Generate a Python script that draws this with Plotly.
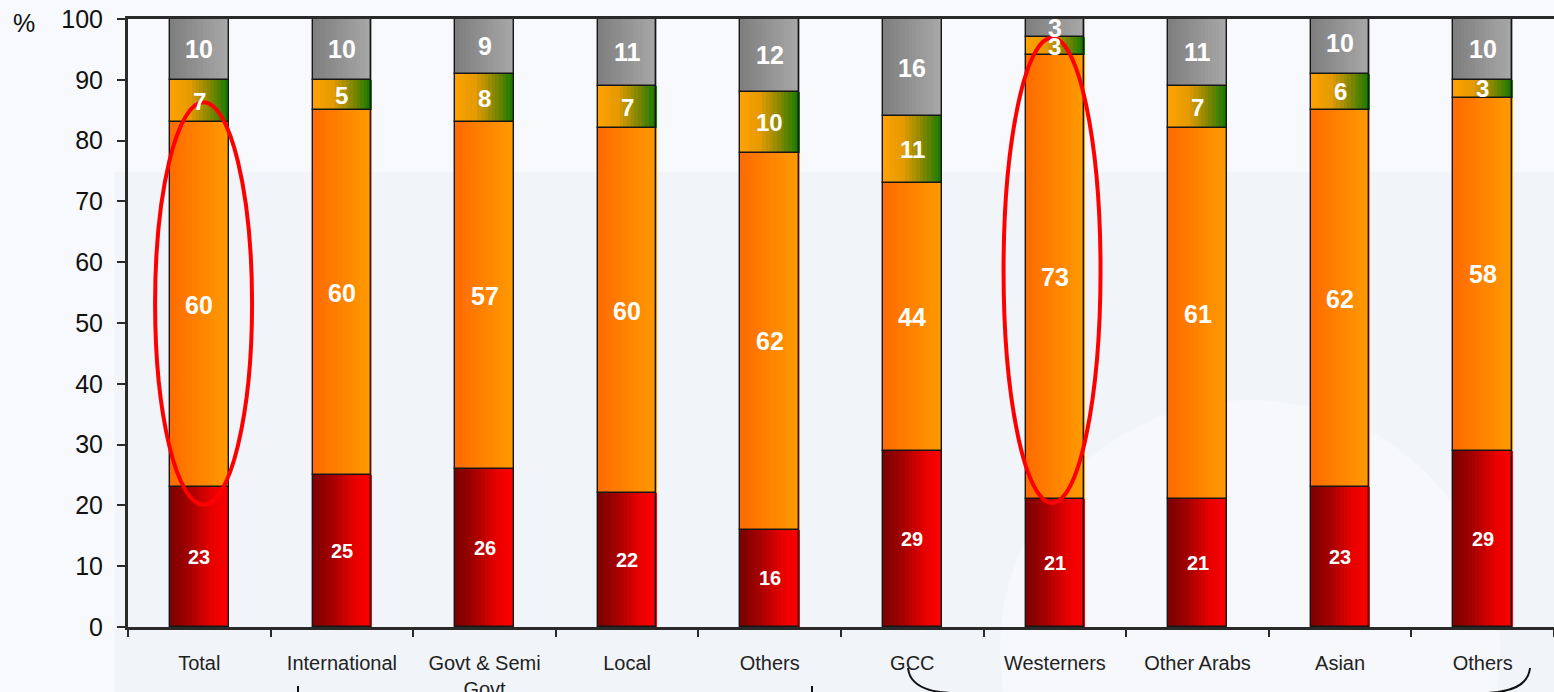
import plotly.graph_objects as go

# ---- data -----------------------------------------------------------------
categories = ["Total", "International", "Govt & Semi<br>Govt", "Local", "Others",
              "GCC", "Westerners", "Other Arabs", "Asian", "Others"]
seg_red = [23, 25, 26, 22, 16, 29, 21, 21, 23, 29]
seg_orange = [60, 60, 57, 60, 62, 44, 73, 61, 62, 58]
seg_yellow = [7, 5, 8, 7, 10, 11, 3, 7, 6, 3]
seg_gray = [10, 10, 9, 11, 12, 16, 3, 11, 10, 10]
y_ticks = list(range(0, 101, 10))

# ---- style ----------------------------------------------------------------
W, H = 1554, 692
BAR_W = 0.41
N_STRIPS = 16
FONT = "Liberation Sans, Arial, sans-serif"

series = [
    (seg_red, [(0, "#7a0000"), (0.35, "#a80000"), (0.7, "#e60000"), (1, "#ff0000")], 20),
    (seg_orange, [(0, "#ff6a00"), (0.4, "#ff7e00"), (1, "#ff9a00")], 25),
    (seg_yellow, [(0, "#ffa200"), (0.35, "#e39a00"), (0.7, "#7c8600"), (1, "#127a00")], 24),
    (seg_gray, [(0, "#7e7e7e"), (1, "#a8a8a8")], 25),
]


def hex2rgb(h):
    h = h.lstrip("#")
    return tuple(int(h[i:i + 2], 16) for i in (0, 2, 4))


def gradient(stops, t):
    for (t0, c0), (t1, c1) in zip(stops[:-1], stops[1:]):
        if t0 <= t <= t1:
            f = (t - t0) / (t1 - t0)
            a, b = hex2rgb(c0), hex2rgb(c1)
            return "rgb(%d,%d,%d)" % tuple(round(a[i] + (b[i] - a[i]) * f) for i in range(3))
    return stops[-1][1]


x_idx = list(range(len(categories)))
fig = go.Figure()
annotations = []

base = [0] * len(categories)
for values, stops, fsize in series:
    # horizontal gradient fill: thin vertical strips side by side
    sw = BAR_W / N_STRIPS
    for k in range(N_STRIPS):
        t = (k + 0.5) / N_STRIPS
        fig.add_trace(go.Bar(
            x=x_idx, y=values, base=base,
            width=sw * 1.2, offset=-BAR_W / 2 + k * sw,
            marker=dict(color=gradient(stops, t), line=dict(width=0)),
            showlegend=False, hoverinfo="skip",
        ))
    # segment outline
    fig.add_trace(go.Bar(
        x=x_idx, y=values, base=base, width=BAR_W,
        marker=dict(color="rgba(0,0,0,0)", line=dict(width=1.4, color="#161616")),
        showlegend=False, hoverinfo="skip",
    ))
    for i, v in enumerate(values):
        annotations.append(dict(
            x=i, y=base[i] + v / 2, xref="x", yref="y", text=str(v), showarrow=False,
            font=dict(family=FONT, size=fsize, color="white", weight="bold"),
        ))
    base = [b + v for b, v in zip(base, values)]

plot_l, plot_r, plot_t, plot_b = 128, 1554, 19, 627


def px(xp):
    return (xp - plot_l) / (plot_r - plot_l)


def py(yp):
    return (plot_b - yp) / (plot_b - plot_t)


annotations.append(dict(
    x=px(11), y=py(23), xref="paper", yref="paper", text="%", showarrow=False,
    xanchor="left", yanchor="middle", font=dict(family=FONT, size=25, color="#111"),
))

shapes = [
    # soft background band
    dict(type="rect", xref="paper", yref="paper", x0=px(115), x1=px(1560), y0=py(700), y1=py(172),
         fillcolor="#f1f4f9", line=dict(width=0), layer="below"),
    dict(type="circle", xref="paper", yref="paper", x0=px(1000), x1=px(1500), y0=py(900), y1=py(400),
         fillcolor="#f6f8fb", line=dict(width=0), layer="below"),
    # highlight ellipses
    dict(type="circle", xref="x", yref="y", x0=-0.31, x1=0.37, y0=20.1, y1=86.3,
         line=dict(color="#ff0000", width=4)),
    dict(type="circle", xref="x", yref="y", x0=5.64, x1=6.32, y0=20.4, y1=96.9,
         line=dict(color="#ff0000", width=4)),
    # group braces below the axis
    dict(type="path", xref="paper", yref="paper",
         path="M %f,%f Q %f,%f %f,%f L %f,%f" % (px(908), py(668), px(910), py(688), px(940), py(692),
                                                  px(960), py(694)),
         line=dict(color="#111", width=2)),
    dict(type="path", xref="paper", yref="paper",
         path="M %f,%f Q %f,%f %f,%f L %f,%f" % (px(1530), py(668), px(1528), py(688), px(1498), py(692),
                                                  px(1478), py(694)),
         line=dict(color="#111", width=2)),
    dict(type="line", xref="paper", yref="paper", x0=px(298), x1=px(298), y0=py(686), y1=py(700),
         line=dict(color="#111", width=2)),
    dict(type="line", xref="paper", yref="paper", x0=px(812), x1=px(812), y0=py(686), y1=py(700),
         line=dict(color="#111", width=2)),
]

fig.update_layout(
    width=W, height=H,
    margin=dict(l=plot_l, r=W - plot_r, t=plot_t, b=H - plot_b, pad=0),
    paper_bgcolor="#f8f9fc", plot_bgcolor="rgba(0,0,0,0)",
    barmode="overlay", bargap=0,
    font=dict(family=FONT, color="#222"),
    annotations=annotations, shapes=shapes,
    xaxis=dict(
        range=[-0.5, len(categories) - 0.5], tickmode="array", tickvals=x_idx, ticktext=categories,
        ticks="", showline=True, linecolor="#2a2a2a", linewidth=3, mirror=True,
        showgrid=False, zeroline=False, ticklabelstandoff=16, automargin=False,
        tickfont=dict(family=FONT, size=20, color="#222"),
        minor=dict(tickmode="array", tickvals=[i - 0.5 for i in range(len(categories) + 1)],
                   ticks="outside", ticklen=7, tickwidth=2, tickcolor="#2a2a2a", showgrid=False),
    ),
    yaxis=dict(
        range=[0, 100], tickmode="array", tickvals=y_ticks,
        ticks="outside", ticklen=8, tickwidth=2, tickcolor="#2a2a2a",
        showline=True, linecolor="#2a2a2a", linewidth=3, showgrid=False, zeroline=False,
        ticklabelstandoff=9, automargin=False, tickfont=dict(family=FONT, size=25, color="#111"),
    ),
)

fig.write_html("out.html")
